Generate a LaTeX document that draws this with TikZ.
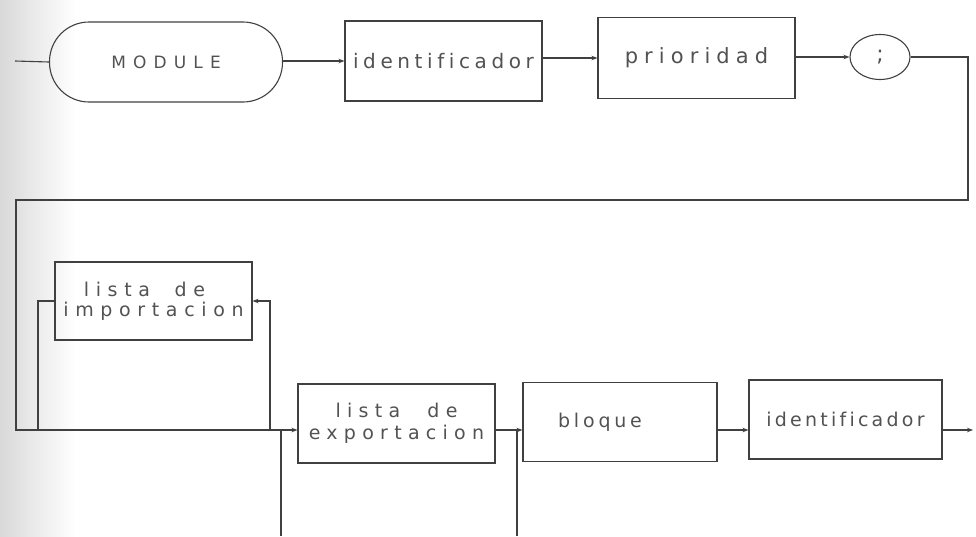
\documentclass[tikz,border=0pt]{standalone}
\usepackage{fontspec}
\setmainfont{DejaVu Sans}[Ligatures=NoCommon]
\usetikzlibrary{arrows.meta,shapes.geometric}
\newcommand{\plotfont}[3]{\fontsize{#1}{#2}\selectfont\addfontfeature{LetterSpace=#3}}
\tikzset{
  x=1pt, y=-1pt,
  ln/.style={draw=black!75, line width=1.1pt},
  arr/.style={ln, -{Stealth[length=6pt,width=4.5pt]}},
  boxnode/.style={ln, rectangle, minimum width=197pt, minimum height=80pt,
    inner sep=0pt, text=black!68, align=center,
    font=\plotfont{20}{20}{23}},
  stadium/.style={boxnode, minimum width=233pt, rounded corners=39.5pt},
  oval/.style={ln, ellipse, minimum width=60pt, minimum height=45pt, inner sep=0pt,
    text=black!68, font=\fontsize{22}{20}\selectfont},
}
\begin{document}
\begin{tikzpicture}
\useasboundingbox (0,0) rectangle (976,536);
\shade[left color=black!15, right color=white] (0,0) rectangle (75,536);

% top row
\coordinate (in) at (15,61);
\node[stadium, font=\plotfont{17}{20}{42}] (mod) at (166,62) {MODULE};
\node[boxnode] (id1) at (443.5,61) {identificador};
\node[boxnode, minimum height=81pt, font=\plotfont{21}{20}{29}] (prio) at (696.5,58) {prioridad};
\node[oval] (semi) at (880,57) {;};

% lower part
\node[boxnode, minimum height=78pt, font=\plotfont{19}{20}{35}] (imp) at (153.5,301) {\hspace*{-18pt}lista\hspace{12pt} de\\importacion};
\node[boxnode, minimum height=79pt, font=\plotfont{19}{22}{33}] (exp) at (396.5,423.5) {lista\hspace{15pt} de\\exportacion};
\node[boxnode, minimum width=194pt, minimum height=79pt, font=\plotfont{19}{20}{20}] (bl) at (620,422) {\hspace*{-40pt}bloque};
\node[boxnode, minimum width=193pt, minimum height=79pt, font=\plotfont{19}{20}{17}] (id2) at (845.5,419.5) {identificador};

\coordinate (r1) at (968,200);
\coordinate (l1) at (16,200);
\coordinate (l2) at (16,430);
\coordinate (j0) at (38,430);
\coordinate (j1) at (270,430);
\coordinate (b1) at (281,430);
\coordinate (b2) at (281,536);
\coordinate (b3) at (517,536);
\coordinate (b4) at (517,430);
\coordinate (out) at (973,430);

% connectors
\draw[ln] (in) -- (mod.west);
\draw[arr] (mod.east |- id1.west) -- (id1.west);
\draw[arr] (id1.east |- prio.west) -- (prio.west);
\draw[arr] (prio.east |- semi.west) -- (semi.west);
\draw[arr] (semi.east) -| (r1) -- (l1) -- (l2) -- (exp.west |- l2);
\draw[arr] (j1) |- (imp.east);
\draw[ln] (imp.west) -| (j0);
\draw[ln] (b1) -- (b2);
\draw[ln] (b3) -- (b4);
\draw[arr] (exp.east |- l2) -- (bl.west |- l2);
\draw[arr] (bl.east |- l2) -- (id2.west |- l2);
\draw[arr] (id2.east |- l2) -- (out);
\end{tikzpicture}
\end{document}
